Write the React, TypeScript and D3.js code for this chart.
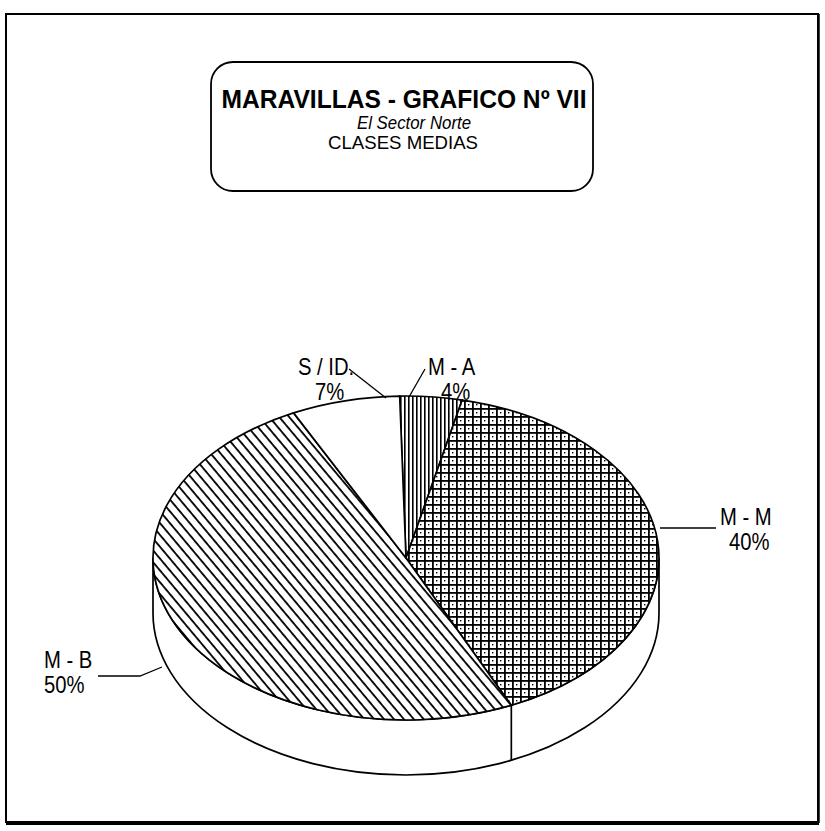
import React from 'react';
import * as d3 from 'd3';

// data
const categories = ['M - A', 'M - M', 'M - B', 'S / ID.'];
const values = [4, 40, 50, 7];
const pctLabels = ['4%', '40%', '50%', '7%'];
const fills = ['url(#pat-va)', 'url(#pat-grid)', 'url(#pat-diag)', '#fff'];

const titleLines = ['MARAVILLAS - GRAFICO Nº VII', 'El Sector Norte', 'CLASES MEDIAS'];

// layout
const W = 825;
const H = 831;
const cx = 406;
const cy = 558;
const rx = 253;
const ry = 162;
const depth = 55;
const startAngle = -0.025;
const FONT = "'Liberation Sans', Arial, Helvetica, sans-serif";

// label anchors and leader polylines
const labelPos = [
  { x: 428, y: 375, px: 441, leader: [[425, 369], [409, 397]] },
  { x: 720, y: 525, px: 729, leader: [[660, 528], [716, 528]] },
  { x: 44, y: 668, px: 44, leader: [[98, 676], [140, 676], [162, 667]] },
  { x: 298, y: 375, px: 315, leader: [[349, 369], [386, 398]] },
];

const ep = (a: number, dy = 0): [number, number] => [
  cx + rx * Math.sin(a),
  cy - ry * Math.cos(a) + dy,
];

const slicePath = (a0: number, a1: number) => {
  const p0 = ep(a0);
  const p1 = ep(a1);
  const large = a1 - a0 > Math.PI ? 1 : 0;
  return `M${cx},${cy}L${p0[0]},${p0[1]}A${rx},${ry} 0 ${large} 1 ${p1[0]},${p1[1]}Z`;
};

export default function App() {
  const arcs = d3
    .pie<number>()
    .sort(null)
    .startAngle(startAngle)
    .endAngle(startAngle + 2 * Math.PI)(values);

  // front side band: right extreme -> bottom -> left extreme
  const r0 = ep(Math.PI / 2);
  const l0 = ep((3 * Math.PI) / 2);
  const r1 = ep(Math.PI / 2, depth);
  const l1 = ep((3 * Math.PI) / 2, depth);
  const sidePath = `M${r0[0]},${r0[1]}A${rx},${ry} 0 0 1 ${l0[0]},${l0[1]}L${l1[0]},${l1[1]}A${rx},${ry} 0 0 0 ${r1[0]},${r1[1]}Z`;

  const sideEdges = arcs
    .map((a) => a.endAngle)
    .filter((a) => a > Math.PI / 2 && a < (3 * Math.PI) / 2);

  const line = d3.line();

  return (
    <svg width={W} height={H} style={{ display: 'block', background: '#fff' }}>
      <style>{`body{margin:0}`}</style>
      <defs>
        <pattern id="pat-va" patternUnits="userSpaceOnUse" width={4} height={10}>
          <rect width={4} height={10} fill="#fff" />
          <rect x={0} y={0} width={1.6} height={10} fill="#000" />
        </pattern>
        <pattern id="pat-grid" patternUnits="userSpaceOnUse" width={8} height={8}>
          <rect width={8} height={8} fill="#fff" />
          <rect x={0} y={0} width={1.8} height={8} fill="#000" />
          <rect x={0} y={0} width={8} height={1.8} fill="#000" />
          <rect x={4} y={4} width={1.4} height={1.4} fill="#000" />
        </pattern>
        <pattern
          id="pat-diag"
          patternUnits="userSpaceOnUse"
          width={20}
          height={7.6}
          patternTransform="rotate(50)"
        >
          <rect width={20} height={7.6} fill="#fff" />
          <rect x={0} y={0} width={20} height={1.8} fill="#000" />
        </pattern>
      </defs>

      {/* outer frame */}
      <rect x={6} y={14} width={812} height={808} fill="none" stroke="#000" strokeWidth={2} />
      <line x1={6} y1={823} x2={819} y2={823} stroke="#000" strokeWidth={4} />
      <line x1={818.5} y1={14} x2={818.5} y2={823} stroke="#000" strokeWidth={2.5} />

      {/* title box */}
      <rect x={211} y={62} width={382} height={129} rx={22} ry={22} fill="#fff" stroke="#000" strokeWidth={1.8} />
      <text
        x={404}
        y={108}
        textAnchor="middle"
        fontFamily={FONT}
        fontWeight="bold"
        fontSize={25}
        textLength={365}
        lengthAdjust="spacingAndGlyphs"
      >
        {titleLines[0]}
      </text>
      <text
        x={414}
        y={129}
        textAnchor="middle"
        fontFamily={FONT}
        fontStyle="italic"
        fontSize={19}
        textLength={114}
        lengthAdjust="spacingAndGlyphs"
      >
        {titleLines[1]}
      </text>
      <text
        x={403}
        y={149}
        textAnchor="middle"
        fontFamily={FONT}
        fontSize={19}
        textLength={150}
        lengthAdjust="spacingAndGlyphs"
      >
        {titleLines[2]}
      </text>

      {/* pie side */}
      <path d={sidePath} fill="#fff" stroke="#000" strokeWidth={1.7} />
      {sideEdges.map((a, i) => {
        const p = ep(a);
        return <line key={i} x1={p[0]} y1={p[1]} x2={p[0]} y2={p[1] + depth} stroke="#000" strokeWidth={1.7} />;
      })}

      {/* pie top */}
      {arcs.map((a, i) => (
        <path key={i} d={slicePath(a.startAngle, a.endAngle)} fill={fills[i]} stroke="#000" strokeWidth={1.7} />
      ))}

      {/* labels */}
      {categories.map((c, i) => {
        const lp = labelPos[i];
        return (
          <g key={c} fontFamily={FONT} fontSize={23}>
            <path d={line(lp.leader as [number, number][]) || ''} fill="none" stroke="#000" strokeWidth={1.3} />
            <text transform={`translate(${lp.x},${lp.y}) scale(0.88,1)`}>{c}</text>
            <text transform={`translate(${lp.px},${lp.y + 25}) scale(0.88,1)`}>{pctLabels[i]}</text>
          </g>
        );
      })}
    </svg>
  );
}
